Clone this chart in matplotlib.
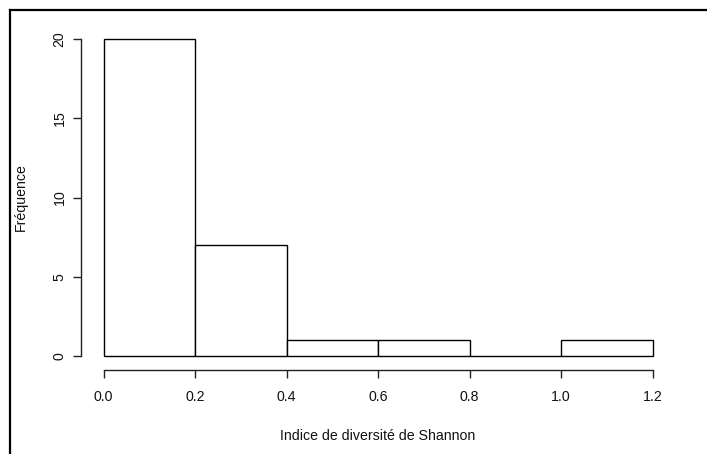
import matplotlib
matplotlib.use("Agg")
import matplotlib.pyplot as plt
from matplotlib.lines import Line2D

plt.rcParams['font.family'] = ['Liberation Sans', 'DejaVu Sans']

bin_edges = [0.0, 0.2, 0.4, 0.6, 0.8, 1.0, 1.2]
counts = [20, 7, 1, 1, 0, 1]
x_ticks = [0.0, 0.2, 0.4, 0.6, 0.8, 1.0, 1.2]
x_tick_labels = ["0.0", "0.2", "0.4", "0.6", "0.8", "1.0", "1.2"]
y_ticks = [0, 5, 10, 15, 20]

W, H = 707, 454
fig = plt.figure(figsize=(W / 100, H / 100), dpi=100)

# plot region in pixels
x0, x1 = 103.5, 652.5
ytop, ybot = 39, 356
ax = fig.add_axes([x0 / W, 1 - ybot / H, (x1 - x0) / W, (ybot - ytop) / H])

widths = [bin_edges[i + 1] - bin_edges[i] for i in range(len(counts))]
bars = ax.bar(bin_edges[:-1], counts, width=widths, align='edge',
              facecolor='white', edgecolor='black', linewidth=1.0)
for b in bars:
    b.set_clip_on(False)

ax.set_xlim(0, 1.2)
ax.set_ylim(0, 20)

for s in ['top', 'right']:
    ax.spines[s].set_visible(False)
ax.spines['bottom'].set_position(('outward', 14 * 0.72))
ax.spines['left'].set_position(('outward', 22.5 * 0.72))
ax.spines['bottom'].set_bounds(0, 1.2)
ax.spines['left'].set_bounds(0, 20)
for s in ['bottom', 'left']:
    ax.spines[s].set_color('#222222')
    ax.spines[s].set_linewidth(1.0)

ax.set_xticks(x_ticks)
ax.set_xticklabels(x_tick_labels)
ax.set_yticks(y_ticks)
ax.set_yticklabels([str(v) for v in y_ticks], rotation=90, va='center')
ax.tick_params(axis='both', length=5.5, width=1.0, color='#222222',
               labelsize=10.2, labelcolor='#111111')
ax.tick_params(axis='x', pad=9)
ax.tick_params(axis='y', pad=5)

ax.set_xlabel("Indice de diversité de Shannon", fontsize=10.2, color='#111111', labelpad=18)
ax.set_ylabel("Fréquence", fontsize=10.2, color='#111111', labelpad=18)

# outer frame lines (left and top)
fig.add_artist(Line2D([9.5 / W, 9.5 / W], [0, 1 - 10 / H], transform=fig.transFigure,
                      color='black', linewidth=1.6))
fig.add_artist(Line2D([9.5 / W, 1], [1 - 10 / H, 1 - 10 / H], transform=fig.transFigure,
                      color='black', linewidth=1.6))

fig.savefig("out.png", dpi=100)
